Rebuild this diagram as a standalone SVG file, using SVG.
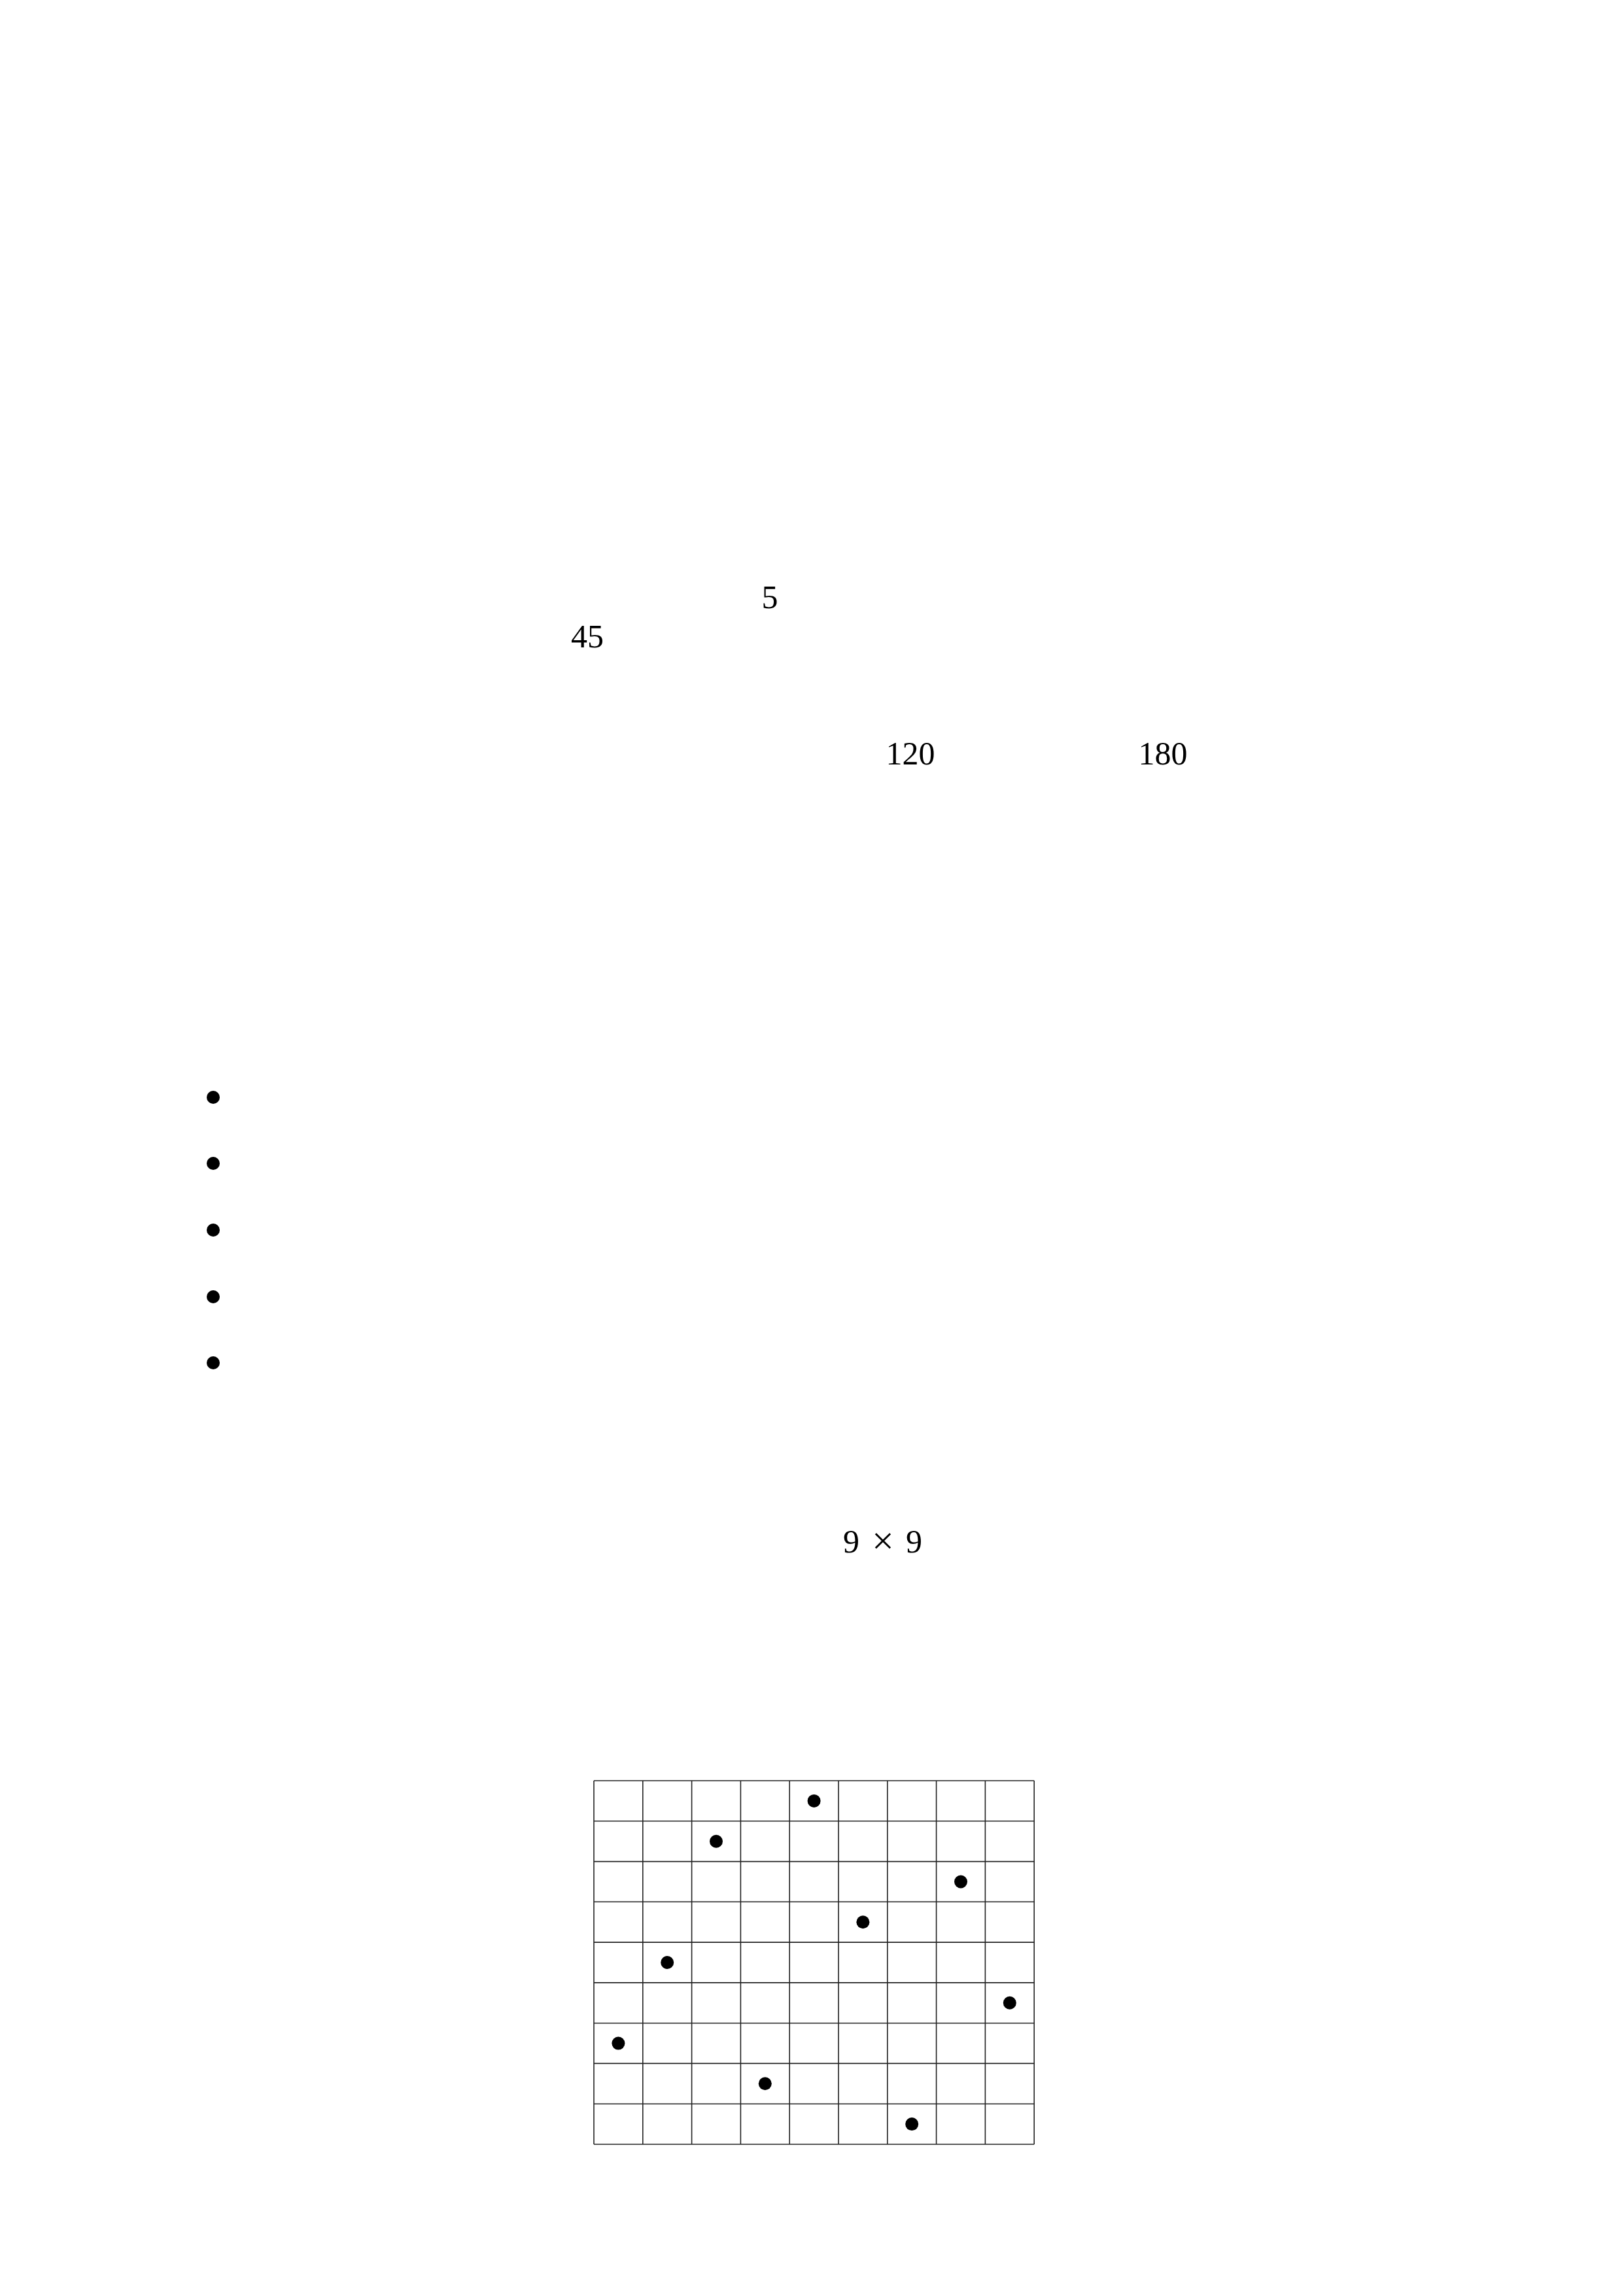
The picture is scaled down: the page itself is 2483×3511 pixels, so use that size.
<svg xmlns="http://www.w3.org/2000/svg" width="2483" height="3511" viewBox="0 0 2483 3511">
<style>
.t{font-family:"Liberation Serif","DejaVu Serif",serif;font-size:50px;fill:#000;text-anchor:middle}
.g{stroke:#222;stroke-width:1.6;fill:none}
</style>
<rect width="2483" height="3511" fill="#fff"/>
<g id="labels">
<text class="t" x="1177" y="930">5</text>
<text class="t" x="898" y="990">45</text>
<text class="t" x="1392" y="1169">120</text>
<text class="t" x="1778" y="1169">180</text>
</g>
<g id="bullets" fill="#000">
<circle cx="326" cy="1678" r="10"/>
<circle cx="326" cy="1779" r="10"/>
<circle cx="326" cy="1881" r="10"/>
<circle cx="326" cy="1983" r="10"/>
<circle cx="326" cy="2084" r="10"/>
</g>
<g id="size-label">
<text class="t" x="1301.5" y="2374">9</text>
<text class="t" x="1350" y="2376" style="font-size:60px">×</text>
<text class="t" x="1397.5" y="2374">9</text>
</g>
<g id="grid" class="g">
<path d="M908 2723V3279M982.8 2723V3279M1057.6 2723V3279M1132.4 2723V3279M1207.2 2723V3279M1282 2723V3279M1356.8 2723V3279M1431.6 2723V3279M1506.4 2723V3279M1581.2 2723V3279"/>
<path d="M908 2723H1581.2M908 2784.8H1581.2M908 2846.6H1581.2M908 2908.3H1581.2M908 2970.1H1581.2M908 3031.9H1581.2M908 3093.7H1581.2M908 3155.4H1581.2M908 3217.2H1581.2M908 3279H1581.2"/>
</g>
<g id="dots" fill="#000">
<circle cx="1244.6" cy="2753.9" r="10"/>
<circle cx="1095" cy="2815.7" r="10"/>
<circle cx="1469" cy="2877.5" r="10"/>
<circle cx="1319.4" cy="2939.2" r="10"/>
<circle cx="1020.2" cy="3001" r="10"/>
<circle cx="1543.8" cy="3062.8" r="10"/>
<circle cx="945.4" cy="3124.6" r="10"/>
<circle cx="1169.8" cy="3186.3" r="10"/>
<circle cx="1394.2" cy="3248.1" r="10"/>
</g>
</svg>
